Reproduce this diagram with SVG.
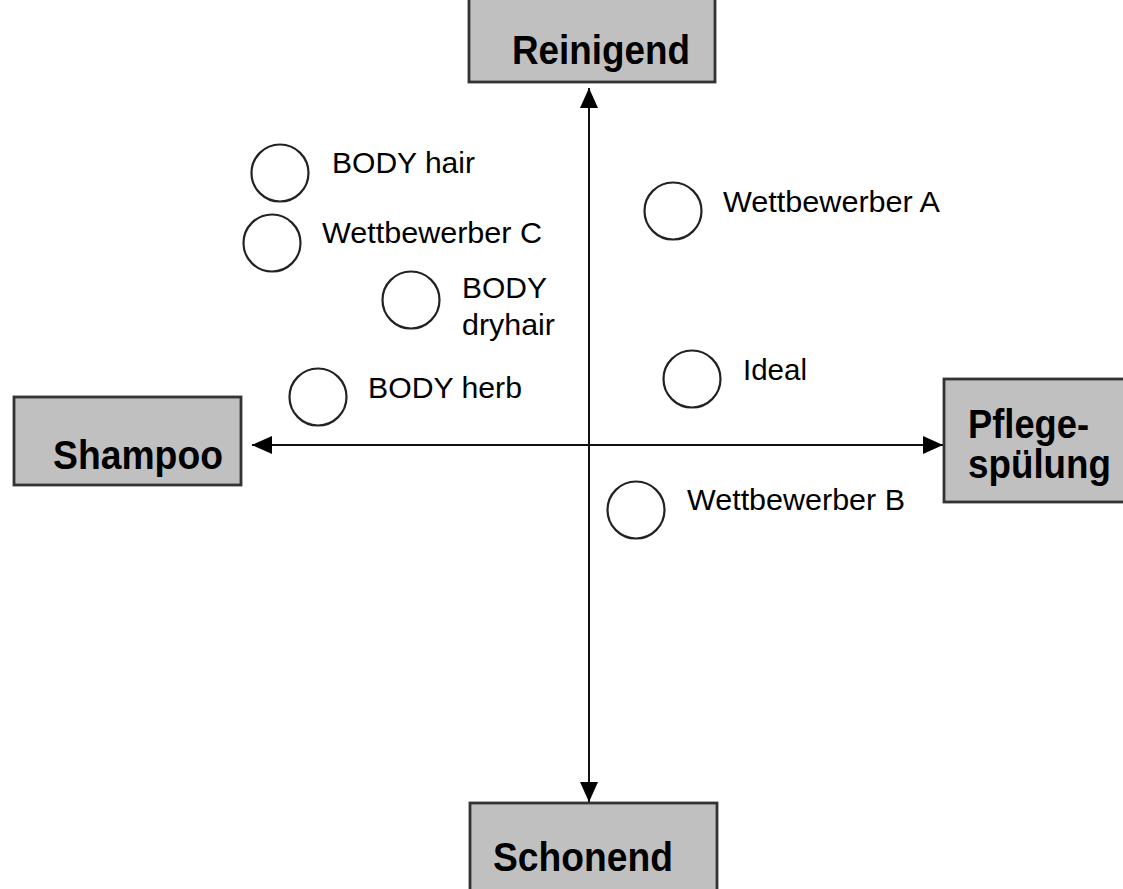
<svg xmlns="http://www.w3.org/2000/svg" width="1123" height="889" viewBox="0 0 1123 889">
<style>
.box{fill:#c0c0c0;stroke:#333;stroke-width:2.8}
.title{font-family:"Liberation Sans",Arial,sans-serif;font-weight:bold;font-size:40px;fill:#000}
.lbl{font-family:"Liberation Sans",Arial,sans-serif;font-size:29px;fill:#000}
.dot{fill:#fff;stroke:#222;stroke-width:2.2}
.axis{stroke:#111;stroke-width:2;fill:none}
</style>
<defs>
<marker id="ah" viewBox="0 0 20 18" refX="20" refY="9" markerWidth="20" markerHeight="18" markerUnits="userSpaceOnUse" orient="auto">
<path d="M0,0 L20,9 L0,18 Z" fill="#000"/>
</marker>
</defs>
<rect width="1123" height="889" fill="#fff"/>
<g id="connectors">
<line class="axis" x1="589" y1="445" x2="589" y2="88" marker-end="url(#ah)"/>
<line class="axis" x1="589" y1="445" x2="589" y2="802" marker-end="url(#ah)"/>
<line class="axis" x1="589" y1="445" x2="252" y2="445" marker-end="url(#ah)"/>
<line class="axis" x1="589" y1="445" x2="943" y2="445" marker-end="url(#ah)"/>
</g>
<g id="reinigend">
<rect class="box" x="469" y="-4" width="246" height="86"/>
<text class="title" x="512" y="64" textLength="178" lengthAdjust="spacingAndGlyphs">Reinigend</text>
</g>
<g id="schonend">
<rect class="box" x="470" y="803" width="247" height="92"/>
<text class="title" x="493" y="871" textLength="180" lengthAdjust="spacingAndGlyphs">Schonend</text>
</g>
<g id="shampoo">
<rect class="box" x="14" y="397" width="227" height="88"/>
<text class="title" x="53" y="469" textLength="170" lengthAdjust="spacingAndGlyphs">Shampoo</text>
</g>
<g id="pflegespuelung">
<rect class="box" x="944" y="379" width="184" height="123"/>
<text class="title" x="968" y="438" textLength="121" lengthAdjust="spacingAndGlyphs">Pflege-</text>
<text class="title" x="968" y="478" textLength="143" lengthAdjust="spacingAndGlyphs">spülung</text>
</g>
<g id="body-hair">
<circle class="dot" cx="280" cy="173" r="28.5"/>
<text class="lbl" x="332" y="173" textLength="143" lengthAdjust="spacingAndGlyphs">BODY hair</text>
</g>
<g id="wettbewerber-c">
<circle class="dot" cx="272" cy="243" r="28.5"/>
<text class="lbl" x="322" y="243" textLength="220" lengthAdjust="spacingAndGlyphs">Wettbewerber C</text>
</g>
<g id="body-dryhair">
<circle class="dot" cx="411" cy="300" r="28.5"/>
<text class="lbl" x="462" y="298" textLength="85" lengthAdjust="spacingAndGlyphs">BODY</text>
<text class="lbl" x="462" y="335" textLength="93" lengthAdjust="spacingAndGlyphs">dryhair</text>
</g>
<g id="body-herb">
<circle class="dot" cx="318" cy="397" r="28.5"/>
<text class="lbl" x="368" y="398" textLength="154" lengthAdjust="spacingAndGlyphs">BODY herb</text>
</g>
<g id="wettbewerber-a">
<circle class="dot" cx="673" cy="211" r="28.5"/>
<text class="lbl" x="723" y="212" textLength="217" lengthAdjust="spacingAndGlyphs">Wettbewerber A</text>
</g>
<g id="ideal">
<circle class="dot" cx="692" cy="379" r="28.5"/>
<text class="lbl" x="743" y="380" textLength="64" lengthAdjust="spacingAndGlyphs">Ideal</text>
</g>
<g id="wettbewerber-b">
<circle class="dot" cx="636" cy="510" r="28.5"/>
<text class="lbl" x="687" y="510" textLength="218" lengthAdjust="spacingAndGlyphs">Wettbewerber B</text>
</g>
</svg>
